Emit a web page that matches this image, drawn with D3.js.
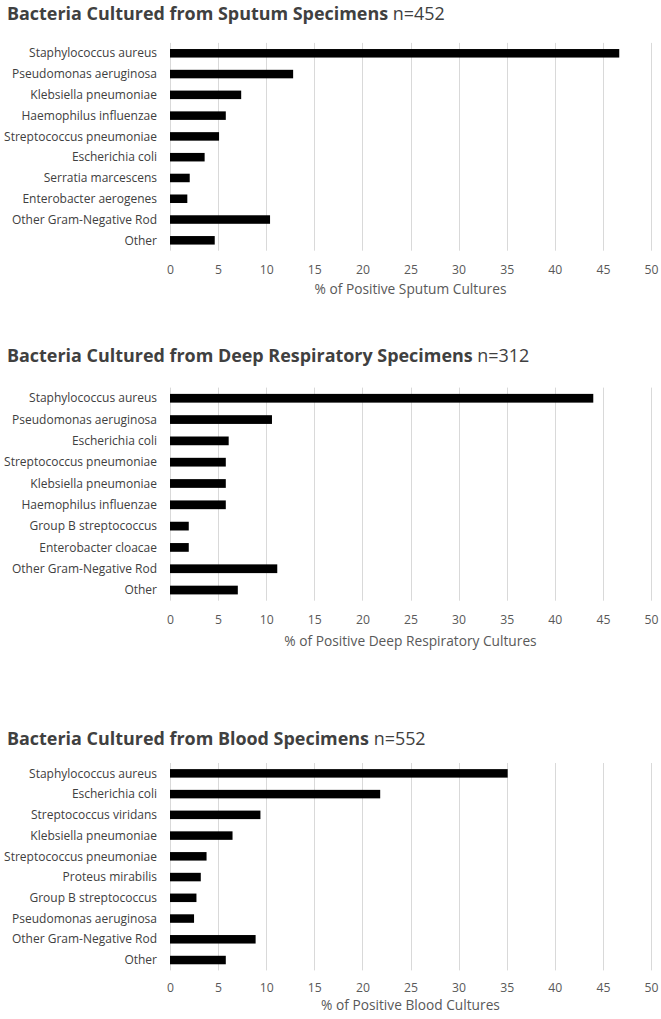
<!DOCTYPE html>
<html>
<head>
<meta charset="utf-8">
<script src="https://cdn.jsdelivr.net/npm/d3@7"></script>
<style>
  html, body { margin: 0; padding: 0; background: #fff; }
  svg { display: block; }
</style>
</head>
<body>
<svg id="chart" width="661" height="1019"></svg>
<script>
// ---------------- DATA ----------------
const sputumCategories = ["Staphylococcus aureus", "Pseudomonas aeruginosa", "Klebsiella pneumoniae", "Haemophilus influenzae", "Streptococcus pneumoniae", "Escherichia coli", "Serratia marcescens", "Enterobacter aerogenes", "Other Gram-Negative Rod", "Other"];
const sputumValues = [46.7, 12.8, 7.4, 5.8, 5.1, 3.6, 2.05, 1.8, 10.4, 4.65];

const deepCategories = ["Staphylococcus aureus", "Pseudomonas aeruginosa", "Escherichia coli", "Streptococcus pneumoniae", "Klebsiella pneumoniae", "Haemophilus influenzae", "Group B streptococcus", "Enterobacter cloacae", "Other Gram-Negative Rod", "Other"];
const deepValues = [44.0, 10.6, 6.1, 5.8, 5.8, 5.8, 1.95, 1.95, 11.15, 7.05];

const bloodCategories = ["Staphylococcus aureus", "Escherichia coli", "Streptococcus viridans", "Klebsiella pneumoniae", "Streptococcus pneumoniae", "Proteus mirabilis", "Group B streptococcus", "Pseudomonas aeruginosa", "Other Gram-Negative Rod", "Other"];
const bloodValues = [35.1, 21.85, 9.4, 6.5, 3.8, 3.2, 2.75, 2.5, 8.9, 5.8];

const tickValues = [0, 5, 10, 15, 20, 25, 30, 35, 40, 45, 50];

const titleMain = ["Bacteria Cultured from Sputum Specimens", "Bacteria Cultured from Deep Respiratory Specimens", "Bacteria Cultured from Blood Specimens"];
const titleN = ["n=452", "n=312", "n=552"];
const axisTitles = ["% of Positive Sputum Cultures", "% of Positive Deep Respiratory Cultures", "% of Positive Blood Cultures"];

// ---------------- LAYOUT ----------------
const layout = [
  { titleY: 19.5, top: 42.9, bottom: 250.7, tickY: 273.5, axisY: 293.5 },
  { titleY: 361.5, top: 387.6, bottom: 600.7, tickY: 624, axisY: 645.5 },
  { titleY: 745, top: 763.0, bottom: 970.4, tickY: 991.5, axisY: 1009.5 }
];

const svg = d3.select("#chart");
const x = d3.scaleLinear().domain([0, 50]).range([170, 651]);
const FONT = "'Open Sans', 'DejaVu Sans', sans-serif";

// helper to fit a font size to a target width
function fitSize(parts, targetWidth, base) {
  const t = svg.append("text").attr("font-family", FONT).attr("font-size", base);
  parts.forEach(p => t.append("tspan").attr("font-weight", p[1]).text(p[0]));
  const w = t.node().getComputedTextLength();
  t.remove();
  return base * targetWidth / w;
}

const labelSize = fitSize([["Streptococcus pneumoniae", 400]], 153, 11);
const tickSize = fitSize([["50", 400]], 14, 11);
const axisSize = fitSize([["% of Positive Sputum Cultures", 400]], 192, 12);
const titleSize = fitSize([[titleMain[0] + " ", 700], [titleN[0], 400]], 438, 18);

const datasets = [
  { cats: sputumCategories, vals: sputumValues },
  { cats: deepCategories, vals: deepValues },
  { cats: bloodCategories, vals: bloodValues }
];

datasets.forEach((ds, i) => {
  const L = layout[i];
  const g = svg.append("g");
  const y = d3.scaleBand().domain(ds.cats).range([L.top, L.bottom])
    .paddingInner(0.59).paddingOuter(0.295);

  // title
  const t = g.append("text").attr("x", 7).attr("y", L.titleY)
    .attr("font-family", FONT).attr("font-size", titleSize).attr("fill", "#404040");
  t.append("tspan").attr("font-weight", 700).text(titleMain[i] + " ");
  t.append("tspan").attr("font-weight", 400).text(titleN[i]);

  // gridlines
  g.selectAll("line.grid").data(tickValues).enter().append("line")
    .attr("x1", d => Math.round(x(d)) + 0.5).attr("x2", d => Math.round(x(d)) + 0.5)
    .attr("y1", L.top).attr("y2", L.bottom)
    .attr("stroke", "#d9d9d9").attr("stroke-width", 1);

  // tick labels via axis
  const axis = d3.axisBottom(x).tickValues(tickValues).tickSize(0).tickPadding(0);
  const ag = g.append("g").attr("transform", `translate(0,${L.tickY})`).call(axis);
  ag.select(".domain").remove();
  ag.selectAll("text").attr("dy", 0).attr("y", 0)
    .attr("font-family", FONT).attr("font-size", tickSize).attr("fill", "#595959");

  // bars
  g.selectAll("rect.bar").data(ds.vals).enter().append("rect")
    .attr("x", x(0))
    .attr("y", (d, j) => y(ds.cats[j]))
    .attr("width", d => x(d) - x(0))
    .attr("height", y.bandwidth())
    .attr("fill", "#000");

  // category labels
  g.selectAll("text.cat").data(ds.cats).enter().append("text")
    .attr("x", 157).attr("y", d => y(d) + y.bandwidth() / 2)
    .attr("dy", "0.35em").attr("text-anchor", "end")
    .attr("font-family", FONT).attr("font-size", labelSize).attr("fill", "#404040")
    .text(d => d);

  // axis title
  g.append("text").attr("x", x(25)).attr("y", L.axisY).attr("text-anchor", "middle")
    .attr("font-family", FONT).attr("font-size", axisSize).attr("fill", "#595959")
    .text(axisTitles[i]);
});
</script>
</body>
</html>
